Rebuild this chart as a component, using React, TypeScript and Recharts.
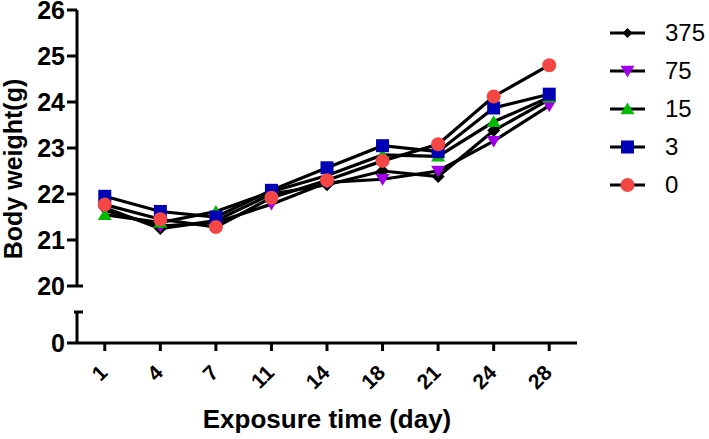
import React from "react";
import { ComposedChart, Line, XAxis, YAxis, Legend } from "recharts";

const days = ["1", "4", "7", "11", "14", "18", "21", "24", "28"];
const dose375 = [21.7, 21.25, 21.42, 22.0, 22.2, 22.5, 22.38, 23.38, 24.05];
const dose75 = [21.65, 21.3, 21.38, 21.78, 22.25, 22.32, 22.5, 23.15, 23.92];
const dose15 = [21.55, 21.38, 21.62, 22.05, 22.4, 22.85, 22.82, 23.57, 24.1];
const dose3 = [21.95, 21.62, 21.5, 22.08, 22.57, 23.05, 22.92, 23.87, 24.17];
const dose0 = [21.77, 21.45, 21.28, 21.92, 22.3, 22.72, 23.08, 24.12, 24.8];

const upperTicks = [20, 21, 22, 23, 24, 25, 26];
const lowerTicks = [0, 1]; // 1 = top of the lower segment (break cap, no label)

const FONT = '"Liberation Sans", Arial, Helvetica, sans-serif';
const TICK_SIZE = 10;
const TICK_MARGIN = 2;

type Shape = "diamond" | "down" | "up" | "square" | "circle";

const series: { key: string; name: string; values: number[]; shape: Shape; color: string }[] = [
  { key: "d375", name: "375", values: dose375, shape: "diamond", color: "#000000" },
  { key: "d75", name: "75", values: dose75, shape: "down", color: "#a000e6" },
  { key: "d15", name: "15", values: dose15, shape: "up", color: "#00bb00" },
  { key: "d3", name: "3", values: dose3, shape: "square", color: "#0000b4" },
  { key: "d0", name: "0", values: dose0, shape: "circle", color: "#f54646" },
];

const chartData = days.map((day, i) => {
  const row: Record<string, string | number> = { day };
  series.forEach((s) => {
    row[s.key] = s.values[i];
  });
  return row;
});

function Marker({ shape, color, cx, cy, r = 6.5 }: { shape: Shape; color: string; cx: number; cy: number; r?: number }) {
  switch (shape) {
    case "diamond":
      return <polygon points={`${cx},${cy - r} ${cx + r},${cy} ${cx},${cy + r} ${cx - r},${cy}`} fill={color} />;
    case "down":
      return <polygon points={`${cx - r - 0.5},${cy - r * 0.8} ${cx + r + 0.5},${cy - r * 0.8} ${cx},${cy + r}`} fill={color} />;
    case "up":
      return <polygon points={`${cx - r - 0.5},${cy + r * 0.8} ${cx + r + 0.5},${cy + r * 0.8} ${cx},${cy - r}`} fill={color} />;
    case "square":
      return <rect x={cx - r} y={cy - r} width={r * 2} height={r * 2} fill={color} />;
    default:
      return <circle cx={cx} cy={cy} r={r + 0.5} fill={color} />;
  }
}

function YTick(props: any) {
  const { x, y, payload, cap, hideLabel } = props;
  const ax = x + TICK_SIZE + TICK_MARGIN;
  const v = payload.value;
  const isCap = cap === v;
  const noLabel = hideLabel === v;
  return (
    <g>
      <line
        x1={noLabel ? ax - 3 : ax - TICK_SIZE}
        x2={isCap ? ax + 6 : ax}
        y1={y}
        y2={y}
        stroke="#000"
        strokeWidth={3}
      />
      {!noLabel && (
        <text x={x} y={y} dy="0.355em" textAnchor="end" fontSize={25} fontWeight="bold" fontFamily={FONT} fill="#000">
          {v}
        </text>
      )}
    </g>
  );
}

function XTick(props: any) {
  const { x, y, payload } = props;
  return (
    <g transform={`translate(${x},${y})`}>
      <text
        x={4}
        y={23}
        transform="rotate(-45, 4, 23)"
        textAnchor="end"
        fontSize={21}
        fontWeight="bold"
        fontFamily={FONT}
        fill="#000"
      >
        {payload.value}
      </text>
    </g>
  );
}

function DoseLegend() {
  return (
    <div style={{ display: "flex", flexDirection: "column" }}>
      {series.map((s) => (
        <div key={s.key} style={{ display: "flex", alignItems: "center", height: 38 }}>
          <svg width={57} height={38}>
            <line x1={2} y1={19} x2={37} y2={19} stroke="#000" strokeWidth={3} />
            <Marker shape={s.shape} color={s.color} cx={19.5} cy={19} r={s.shape === "diamond" ? 5 : 6.5} />
          </svg>
          <span style={{ fontSize: 24, fontFamily: FONT, lineHeight: "38px", color: "#000" }}>{s.name}</span>
        </div>
      ))}
    </div>
  );
}

export default function App() {
  return (
    <div style={{ position: "absolute", left: 0, top: 0, width: 709, height: 439, background: "#fff" }}>
      <div style={{ position: "absolute", left: 0, top: 0 }}>
        <ComposedChart width={709} height={300} data={chartData} margin={{ top: 10, right: 132, bottom: 14, left: 0 }}>
          <XAxis dataKey="day" scale="band" hide />
          <YAxis
            type="number"
            domain={[20, 26]}
            ticks={upperTicks}
            interval={0}
            width={77}
            tickSize={TICK_SIZE}
            tickMargin={TICK_MARGIN}
            tickLine={false}
            axisLine={{ stroke: "#000", strokeWidth: 3 }}
            tick={<YTick cap={20} />}
            label={(p: any) => {
              const vb = p.viewBox || { x: 0, y: 10, width: 77, height: 276 };
              const cx = 22;
              const cy = vb.y + vb.height / 2 + 21;
              return (
                <text
                  x={cx}
                  y={cy}
                  transform={`rotate(-90, ${cx}, ${cy})`}
                  textAnchor="middle"
                  fontSize={25}
                  fontWeight="bold"
                  fontFamily={FONT}
                  fill="#000"
                >
                  Body weight(g)
                </text>
              );
            }}
          />
          <Legend
            layout="vertical"
            align="center"
            verticalAlign="middle"
            content={<DoseLegend />}
            wrapperStyle={{ left: 608, top: 14, width: "auto" }}
          />
          {series.map((s) => (
            <Line
              key={s.key}
              dataKey={s.key}
              name={s.name}
              type="linear"
              stroke="#000"
              strokeWidth={3.2}
              isAnimationActive={false}
              activeDot={false}
              dot={(p: any) => <Marker key={`${s.key}-${p.index}`} shape={s.shape} color={s.color} cx={p.cx} cy={p.cy} />}
            />
          ))}
        </ComposedChart>
      </div>
      <div style={{ position: "absolute", left: 0, top: 290 }}>
        <ComposedChart width={709} height={149} data={chartData} margin={{ top: 22, right: 132, bottom: 0, left: 0 }}>
          <XAxis
            dataKey="day"
            scale="band"
            height={96}
            interval={0}
            tickSize={8}
            tickMargin={0}
            axisLine={{ stroke: "#000", strokeWidth: 3 }}
            tickLine={{ stroke: "#000", strokeWidth: 3 }}
            tick={<XTick />}
            label={(p: any) => {
              const vb = p.viewBox || { x: 77, y: 53, width: 500, height: 96 };
              return (
                <text
                  x={vb.x + vb.width / 2}
                  y={vb.y + 85}
                  textAnchor="middle"
                  fontSize={26}
                  fontWeight="bold"
                  fontFamily={FONT}
                  fill="#000"
                >
                  Exposure time (day)
                </text>
              );
            }}
          />
          <YAxis
            type="number"
            domain={[0, 1]}
            allowDataOverflow
            ticks={lowerTicks}
            interval={0}
            width={77}
            tickSize={TICK_SIZE}
            tickMargin={TICK_MARGIN}
            tickLine={false}
            axisLine={{ stroke: "#000", strokeWidth: 3 }}
            tick={<YTick cap={1} hideLabel={1} />}
          />
        </ComposedChart>
      </div>
    </div>
  );
}
